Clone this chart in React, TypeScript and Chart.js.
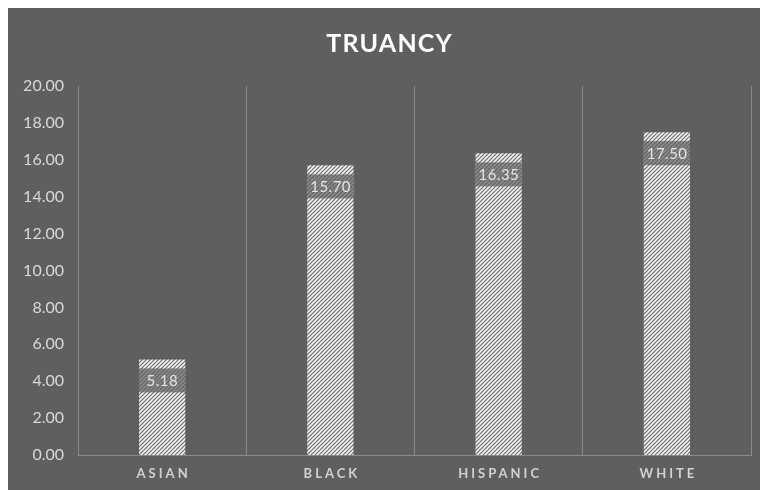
import React, { useEffect, useRef } from "react";
import { Chart, registerables } from "chart.js";

Chart.register(...registerables);

const categories = ["ASIAN", "BLACK", "HISPANIC", "WHITE"];
const truancy = [5.18, 15.7, 16.35, 17.5];
const yTicksMin = 0;
const yTicksMax = 20;
const yTickStep = 2;
const chartTitle = "TRUANCY";

function makePattern(): CanvasPattern | string {
  const size = 4;
  const c = document.createElement("canvas");
  c.width = size;
  c.height = size;
  const g = c.getContext("2d");
  if (!g) return "#cccccc";
  g.fillStyle = "#6e6e6e";
  g.fillRect(0, 0, size, size);
  g.strokeStyle = "#f4f4f4";
  g.lineWidth = 1.6;
  g.beginPath();
  g.moveTo(0, size);
  g.lineTo(size, 0);
  g.moveTo(-1, 1);
  g.lineTo(1, -1);
  g.moveTo(size - 1, size + 1);
  g.lineTo(size + 1, size - 1);
  g.stroke();
  const p = g.createPattern(c, "repeat");
  return p || "#cccccc";
}

function drawSpaced(ctx: any, text: string, cx: number, cy: number, spacing: number) {
  ctx.textBaseline = "middle";
  if ("letterSpacing" in ctx) {
    ctx.letterSpacing = spacing + "px";
    ctx.textAlign = "center";
    ctx.fillText(text, cx + spacing / 2, cy);
    ctx.letterSpacing = "0px";
    return;
  }
  ctx.textAlign = "left";
  const chars = Array.from(text);
  const widths = chars.map((ch) => ctx.measureText(ch).width);
  const total = widths.reduce((a, b) => a + b, 0) + spacing * (chars.length - 1);
  let x = cx - total / 2;
  chars.forEach((ch, i) => {
    ctx.fillText(ch, x, cy);
    x += widths[i] + spacing;
  });
}

const labelPlugin = {
  id: "barLabels",
  afterDatasetsDraw(chart: any) {
    const ctx = chart.ctx;
    const meta = chart.getDatasetMeta(0);
    const data = chart.data.datasets[0].data as number[];
    ctx.save();
    meta.data.forEach((bar: any, i: number) => {
      const w = bar.width;
      const left = bar.x - w / 2;
      const top = bar.y + 9;
      const h = 24;
      ctx.fillStyle = "rgba(96,96,96,0.72)";
      ctx.fillRect(left, top, w, h);
      ctx.fillStyle = "#e4e4e4";
      ctx.font = "15px Lato";
      drawSpaced(ctx, data[i].toFixed(2), bar.x, top + h / 2 + 1, 0.5);
    });
    ctx.restore();
  },
  afterDraw(chart: any) {
    const ctx = chart.ctx;
    const xs = chart.scales.x;
    ctx.save();
    // category labels
    ctx.fillStyle = "#d2d2d2";
    ctx.font = "bold 13px Lato";
    (chart.data.labels as string[]).forEach((lab, i) => {
      drawSpaced(ctx, lab, xs.getPixelForTick(i), xs.top + 19, 3);
    });
    // title
    ctx.fillStyle = "#ffffff";
    ctx.font = "bold 25px Lato";
    drawSpaced(ctx, chartTitle, chart.width / 2 + 1, 36, 1.2);
    ctx.restore();
  },
};

export default function App() {
  const ref = useRef<HTMLCanvasElement>(null);
  useEffect(() => {
    if (!ref.current) return;
    const pattern = makePattern();
    const chart = new Chart(ref.current, {
      type: "bar",
      data: {
        labels: categories,
        datasets: [
          {
            data: truancy,
            backgroundColor: pattern as any,
            borderWidth: 0,
            barPercentage: 0.55,
            categoryPercentage: 0.5,
          },
        ],
      },
      options: {
        animation: false,
        responsive: false,
        maintainAspectRatio: false,
        layout: { padding: { left: 0, right: 17, top: 78, bottom: 0 } },
        plugins: {
          legend: { display: false },
          tooltip: { enabled: false },
          title: { display: false },
        },
        scales: {
          x: {
            offset: true,
            grid: {
              display: true,
              color: "#8a8a8a",
              lineWidth: 1,
              drawTicks: false,
              offset: true,
            },
            border: { display: true, color: "#8a8a8a", width: 1 },
            ticks: { display: false },
            afterFit: (s: any) => {
              s.height = 35;
            },
          },
          y: {
            min: yTicksMin,
            max: yTicksMax,
            grid: { display: false, drawTicks: false },
            border: { display: false },
            ticks: {
              stepSize: yTickStep,
              color: "#d9d9d9",
              font: { family: "Lato", size: 16 },
              padding: 14,
              callback: (v: any) => Number(v).toFixed(2),
            },
            afterFit: (s: any) => {
              s.width = 70;
            },
          },
        },
      },
      plugins: [labelPlugin],
    });
    return () => chart.destroy();
  }, []);
  return (
    <div style={{ width: 760, height: 482, background: "#5f5f5f" }}>
      <canvas ref={ref} width={760} height={482} style={{ display: "block" }} />
    </div>
  );
}
